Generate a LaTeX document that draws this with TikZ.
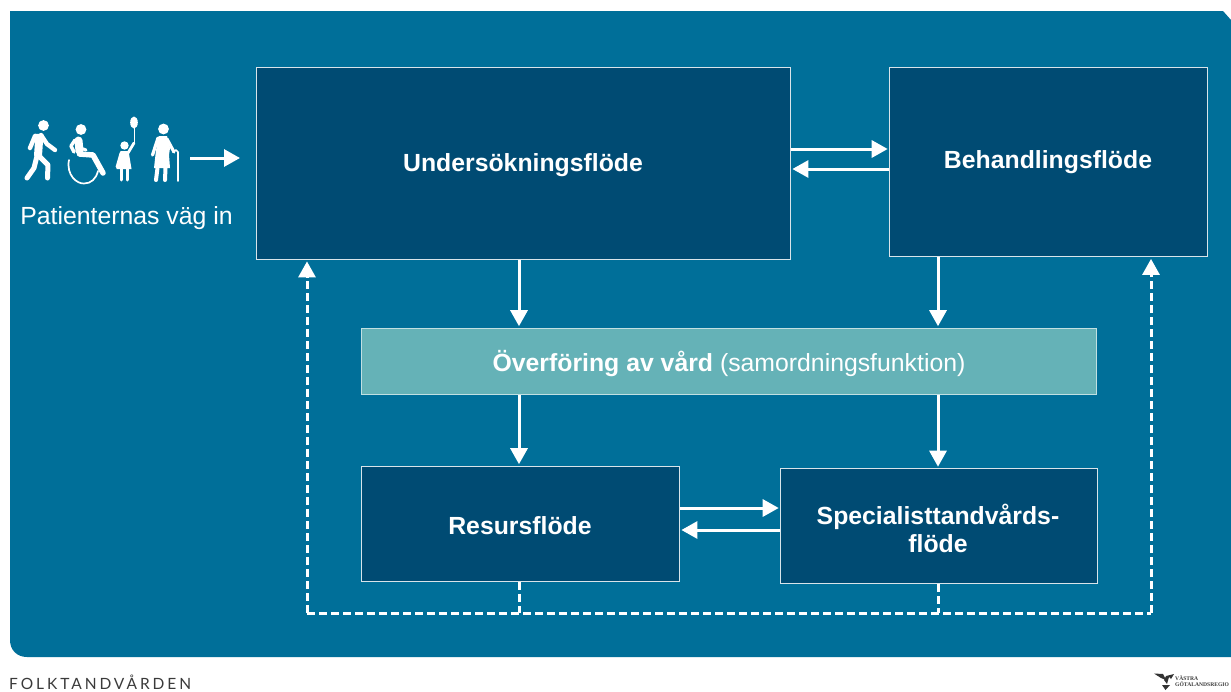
\documentclass[tikz,border=0pt]{standalone}
\usepackage{fontspec}
\setmainfont{Liberation Sans}
\newfontfamily\brandfont[LetterSpace=19]{Lato}
\newfontfamily\logofont{Liberation Serif}
\usetikzlibrary{arrows.meta}
\definecolor{panel}{HTML}{006F99}
\definecolor{dark}{HTML}{004B73}
\definecolor{teal2}{HTML}{65B2B7}
\definecolor{ink}{HTML}{3A3A3A}
\tikzset{
  x=1pt,y=-1pt,
  flowbox/.style={draw=white!85!dark,line width=1.2pt,fill=dark,inner sep=0pt,anchor=north west},
  flowtext/.style={text=white,inner sep=0pt,font=\fontsize{24.8}{28}\selectfont\bfseries},
  flowarrow/.style={draw=white,line width=3pt,-{Triangle[length=16pt,width=17pt]},shorten >=1.5pt},
  dasharrow/.style={draw=white,line width=3pt,dash pattern=on 8pt off 4pt,-{Triangle[length=16pt,width=17pt]},shorten >=1.5pt},
  dashline/.style={draw=white,line width=3pt,dash pattern=on 8pt off 4pt},
  limb/.style={draw=white,line width=4.4pt,line cap=round,line join=round},
  thin limb/.style={draw=white,line width=1.7pt,line cap=round,line join=round},
}
\begin{document}
\begin{tikzpicture}
\useasboundingbox (0,0) rectangle (1231,691);
\fill[white] (0,0) rectangle (1231,691);
\fill[panel] (10,11) -- (1223,11) -- (1231,20) -- (1231,657) -- (27,657)
  .. controls (17,657) and (10,650) .. (10,640) -- cycle;

% boxes
\node[flowbox,minimum width=534pt,minimum height=192pt] (und) at (255.7,66.7) {};
\node[flowtext] (undt) at (523,165) {Undersökningsflöde};
\node[flowbox,minimum width=318pt,minimum height=189pt] (beh) at (889.2,67.2) {};
\node[flowtext] (beht) at (1048,162) {Behandlingsflöde};
\node[flowbox,fill=teal2,draw=white!60!teal2,minimum width=735pt,minimum height=66pt] (ovf) at (361.2,327.7) {};
\node[flowtext,font=\fontsize{24.8}{28}\selectfont] (ovft) at (729,364) {\textbf{Överföring av vård} (samordningsfunktion)};
\node[flowbox,minimum width=317.5pt,minimum height=115pt] (res) at (361.2,465.7) {};
\node[flowtext] (rest) at (520,526) {Resursflöde};
\node[flowbox,minimum width=316.5pt,minimum height=115pt] (spe) at (780.2,468.2) {};
\node[flowtext,align=center] (spet) at (938,528.5) {Specialisttandvårds-\\flöde};

% connectors
\coordinate (xa) at (519,0);
\coordinate (xb) at (938,0);
\coordinate (xl) at (307,0);
\coordinate (xr) at (1151,0);
\coordinate (yt) at (0,149);
\coordinate (yu) at (0,169);
\coordinate (ys) at (0,508);
\coordinate (yv) at (0,530);
\coordinate (yd) at (0,613);

\draw[flowarrow] (und.east |- yt) -- (beh.west |- yt);
\draw[flowarrow] (beh.west |- yu) -- (und.east |- yu);
\draw[flowarrow] (und.south -| xa) -- (ovf.north -| xa);
\draw[flowarrow] (beh.south -| xb) -- (ovf.north -| xb);
\draw[flowarrow] (ovf.south -| xa) -- (res.north -| xa);
\draw[flowarrow] (ovf.south -| xb) -- (spe.north -| xb);
\draw[flowarrow] (res.east |- ys) -- (spe.west |- ys);
\draw[flowarrow] (spe.west |- yv) -- (res.east |- yv);

\draw[dashline] (res.south -| xa) -- (yd -| xa);
\draw[dashline] (spe.south -| xb) -- (yd -| xb);
\draw[dashline] (yd -| xl) -- (yd -| xr);
\draw[dasharrow] (yd -| xl) -- (und.south -| xl);
\draw[dasharrow] (yd -| xr) -- (beh.south -| xr);

% entry arrow and label
\coordinate (entry) at (190,158);
\coordinate (entryend) at (241.5,158);
\draw[flowarrow] (entry) -- (entryend);
\node[flowtext,font=\fontsize{24.8}{28}\selectfont] (way) at (126.5,218) {Patienternas väg in};

% walker
\fill[white] (43.5,125.5) circle (5.4);
\draw[limb,line width=8pt,line cap=butt] (39.5,134) -- (38,156);
\draw[limb,line width=4.4pt] (41,135) -- (47,144) -- (55,150);
\draw[limb,line width=4.4pt] (35,136) -- (30,148);
\draw[limb,line width=5pt] (37,156) -- (34,168) -- (27,178);
\draw[limb,line width=5pt] (39,156) -- (48,165) -- (47.5,178);
% wheelchair
\fill[white] (81,129.5) circle (5.4);
\draw[limb,line width=8pt] (78.5,140.5) -- (79.5,151);
\draw[limb,line width=5.5pt] (79.5,154) -- (93,155) -- (103,173);
\draw[limb,line width=3.4pt] (75,140) -- (71,146) -- (74,152);
\draw[limb,line width=3pt] (78,147) -- (86,150);
\draw[thin limb] (69,160) .. controls (66,175) and (77,184) .. (84,183.5) .. controls (91,183.5) and (96,179) .. (98,171);
% child with balloon
\fill[white] (134,122.5) ellipse (3.8 and 6);
\draw[draw=white,line width=0.9pt] (134,128) -- (134,143);
\draw[limb,line width=2.8pt] (134,143) -- (128,153);
\fill[white] (124.5,145.5) circle (4.2);
\fill[white] (120.5,151) -- (128.5,151) -- (131.5,169) -- (116.5,169) -- cycle;
\draw[limb,line width=2.8pt] (121,153) -- (117,167);
\draw[limb,line width=3pt] (121.5,168) -- (121.5,180);
\draw[limb,line width=3pt] (127,168) -- (127,180);
% old woman
\fill[white] (163.5,129) circle (5.4);
\fill[white] (159,136) -- (167,136) -- (170,148) -- (169,155) -- (170,168) -- (154,168) -- (156,150) -- cycle;
\draw[limb,line width=3.2pt] (158,138) -- (152.5,155);
\draw[limb,line width=3.2pt] (167,139) -- (174,152);
\draw[limb,line width=4pt] (157.5,168) -- (156,180);
\draw[limb,line width=4pt] (165.5,168) -- (165,180);
\draw[thin limb] (173,152) -- (176,150) -- (178,152) -- (178,181);

% footer
\node[text=ink,anchor=west,inner sep=0pt,font=\fontsize{15.5}{18}\selectfont\brandfont] (brand) at (9,682.5) {FOLKTANDVÅRDEN};
\fill[black!80] (1154,673.5) -- (1163,674) -- (1166,680) -- (1161,678) -- cycle;
\fill[black!80] (1164,680) -- (1166,676) -- (1174,674) -- (1171,679) -- (1169,677) -- (1167,684) -- cycle;
\fill[black!80] (1162,685) -- (1170,685) -- (1165.5,690) -- cycle;
\node[text=ink,anchor=west,align=left,inner sep=0pt,font=\fontsize{5.6}{6}\selectfont\logofont\bfseries] (vg) at (1175,681) {VÄSTRA\\GÖTALANDSREGIO};
\end{tikzpicture}
\end{document}
